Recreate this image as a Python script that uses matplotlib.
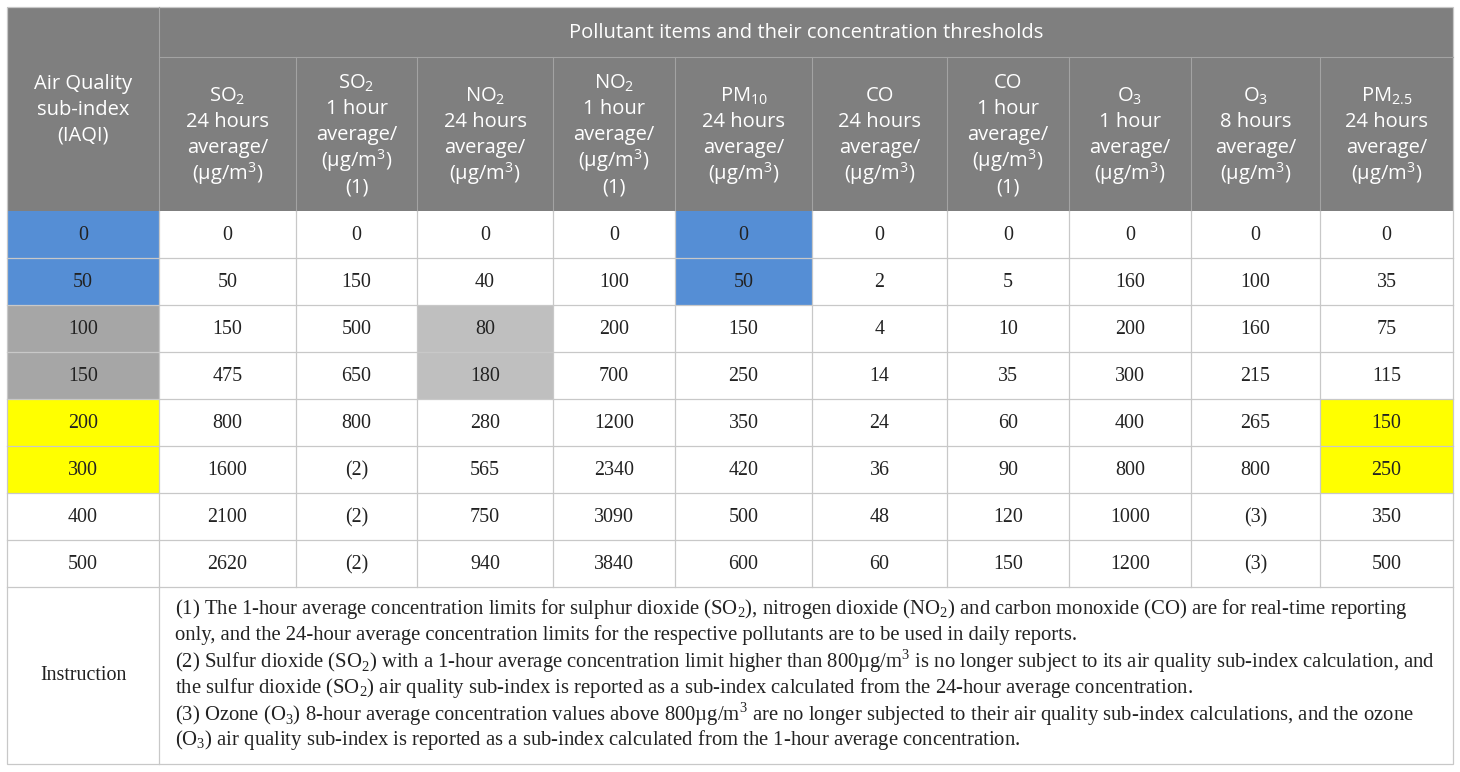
import matplotlib
matplotlib.use('Agg')
import matplotlib.pyplot as plt
from matplotlib.patches import Rectangle

# table content
iaqi = ['0', '50', '100', '150', '200', '300', '400', '500']
so2_24h = ['0', '50', '150', '475', '800', '1600', '2100', '2620']
so2_1h = ['0', '150', '500', '650', '800', '(2)', '(2)', '(2)']
no2_24h = ['0', '40', '80', '180', '280', '565', '750', '940']
no2_1h = ['0', '100', '200', '700', '1200', '2340', '3090', '3840']
pm10_24h = ['0', '50', '150', '250', '350', '420', '500', '600']
co_24h = ['0', '2', '4', '14', '24', '36', '48', '60']
co_1h = ['0', '5', '10', '35', '60', '90', '120', '150']
o3_1h = ['0', '160', '200', '300', '400', '800', '1000', '1200']
o3_8h = ['0', '100', '160', '215', '265', '800', '(3)', '(3)']
pm25_24h = ['0', '35', '75', '115', '150', '250', '350', '500']

UNIT = r'(µg/m$^\mathregular{3}$)'
first_header = ['Air Quality', 'sub-index', '(IAQI)']
group_title = 'Pollutant items and their concentration thresholds'
col_headers = [
    [r'SO$_\mathregular{2}$', '24 hours', 'average/', UNIT],
    [r'SO$_\mathregular{2}$', '1 hour', 'average/', UNIT, '(1)'],
    [r'NO$_\mathregular{2}$', '24 hours', 'average/', UNIT],
    [r'NO$_\mathregular{2}$', '1 hour', 'average/', UNIT, '(1)'],
    [r'PM$_\mathregular{10}$', '24 hours', 'average/', UNIT],
    ['CO', '24 hours', 'average/', UNIT],
    ['CO', '1 hour', 'average/', UNIT, '(1)'],
    [r'O$_\mathregular{3}$', '1 hour', 'average/', UNIT],
    [r'O$_\mathregular{3}$', '8 hours', 'average/', UNIT],
    [r'PM$_\mathregular{2.5}$', '24 hours', 'average/', UNIT],
]
notes_label = 'Instruction'
notes = [
    r'(1) The 1-hour average concentration limits for sulphur dioxide (SO$_\mathregular{2}$), nitrogen dioxide (NO$_\mathregular{2}$) and carbon monoxide (CO) are for real-time reporting',
    'only, and the 24-hour average concentration limits for the respective pollutants are to be used in daily reports.',
    r'(2) Sulfur dioxide (SO$_\mathregular{2}$) with a 1-hour average concentration limit higher than 800µg/m$^\mathregular{3}$ is no longer subject to its air quality sub-index calculation, and',
    r'the sulfur dioxide (SO$_\mathregular{2}$) air quality sub-index is reported as a sub-index calculated from the 24-hour average concentration.',
    r'(3) Ozone (O$_\mathregular{3}$) 8-hour average concentration values above 800µg/m$^\mathregular{3}$ are no longer subjected to their air quality sub-index calculations, and the ozone',
    r'(O$_\mathregular{3}$) air quality sub-index is reported as a sub-index calculated from the 1-hour average concentration.',
]

columns = [iaqi, so2_24h, so2_1h, no2_24h, no2_1h, pm10_24h,
           co_24h, co_1h, o3_1h, o3_8h, pm25_24h]

# highlighted cells: (column, row) -> colour
BLUE = '#558ed5'
DGRAY = '#a6a6a6'
LGRAY = '#bfbfbf'
YELLOW = '#ffff00'
highlight = {}
for r in (0, 1):
    highlight[(0, r)] = BLUE
    highlight[(5, r)] = BLUE
for r in (2, 3):
    highlight[(0, r)] = DGRAY
    highlight[(3, r)] = LGRAY
for r in (4, 5):
    highlight[(0, r)] = YELLOW
    highlight[(10, r)] = YELLOW

# layout (pixels)
col_x = [7, 159, 296, 417, 553, 675, 812, 947, 1069, 1191, 1320, 1453]
top, mid, head_bot = 7, 57, 211
row_h = 47
n_rows = len(iaqi)
body_bot = head_bot + n_rows * row_h
bottom = 764

HEAD_BG = '#7f7f7f'
HEAD_LINE = '#a3a3a3'
GRID = '#c8c8c8'
TXT = '#222222'
SANS = ['Open Sans', 'DejaVu Sans']
SERIF = ['Liberation Serif', 'DejaVu Serif']

fig = plt.figure(figsize=(14.6, 7.72), dpi=100)
ax = fig.add_axes([0, 0, 1, 1])
ax.set_xlim(0, 1460)
ax.set_ylim(772, 0)
ax.axis('off')

# header background
ax.add_patch(Rectangle((col_x[0], top), col_x[-1] - col_x[0], head_bot - top,
                       facecolor=HEAD_BG, edgecolor='none'))
ax.plot([col_x[1], col_x[-1]], [mid, mid], color=HEAD_LINE, lw=0.8)
ax.plot([col_x[1], col_x[1]], [top, head_bot], color=HEAD_LINE, lw=0.8)
for x in col_x[2:-1]:
    ax.plot([x, x], [mid, head_bot], color=HEAD_LINE, lw=0.8)

hs = 14.5
ax.text((col_x[1] + col_x[-1]) / 2, (top + mid) / 2 + 1, group_title,
        ha='center', va='center', color='white', fontsize=hs, family=SANS)

line_gap = 26
def header_lines(cx, cy, lines):
    n = len(lines)
    for i, s in enumerate(lines):
        y = cy + (i - (n - 1) / 2) * line_gap
        ax.text(cx, y, s, ha='center', va='center', color='white',
                fontsize=hs, family=SANS)

header_lines((col_x[0] + col_x[1]) / 2, (top + head_bot) / 2 + 1, first_header)
for j, lines in enumerate(col_headers):
    header_lines((col_x[j + 1] + col_x[j + 2]) / 2, (mid + head_bot) / 2 + 1, lines)

# body cells
for j, col in enumerate(columns):
    for r, val in enumerate(col):
        y0 = head_bot + r * row_h
        fc = highlight.get((j, r))
        if fc:
            ax.add_patch(Rectangle((col_x[j], y0), col_x[j + 1] - col_x[j], row_h,
                                   facecolor=fc, edgecolor='none'))
        ax.text((col_x[j] + col_x[j + 1]) / 2, y0 + row_h / 2 + 1, val,
                ha='center', va='center', color=TXT, fontsize=14.4, family=SERIF)

# grid lines in body
for r in range(1, n_rows + 1):
    y = head_bot + r * row_h
    ax.plot([col_x[0], col_x[-1]], [y, y], color=GRID, lw=0.9)
for x in col_x[1:-1]:
    ax.plot([x, x], [head_bot, body_bot], color=GRID, lw=0.9)
ax.plot([col_x[1], col_x[1]], [body_bot, bottom], color=GRID, lw=0.9)
# outer border
ax.add_patch(Rectangle((col_x[0], top), col_x[-1] - col_x[0], bottom - top,
                       facecolor='none', edgecolor=GRID, lw=0.9))

# instruction row
ax.text((col_x[0] + col_x[1]) / 2, (body_bot + bottom) / 2, notes_label,
        ha='center', va='center', color=TXT, fontsize=14.4, family=SERIF)

fig.canvas.draw()
renderer = fig.canvas.get_renderer()
probe = ax.text(0, 0, notes[0], fontsize=14, family=SERIF)
w = probe.get_window_extent(renderer).width
probe.remove()
ns = 14 * 1238 / w
note_y0 = 609
for i, s in enumerate(notes):
    ax.text(175, note_y0 + i * 26.3, s, ha='left', va='center', color=TXT,
            fontsize=ns, family=SERIF)

fig.savefig('out.png', dpi=100)
